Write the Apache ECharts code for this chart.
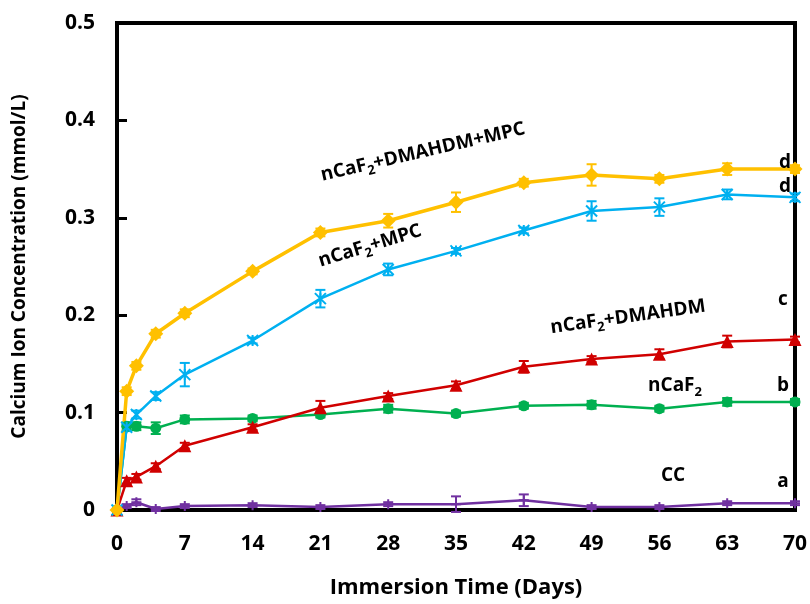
<!DOCTYPE html>
<html>
<head>
<meta charset="utf-8">
<script src="https://cdn.jsdelivr.net/npm/echarts@6/dist/echarts.min.js"></script>
<style>html,body{margin:0;padding:0;background:#fff}#c{width:810px;height:604px}</style>
</head>
<body>
<div id="c"></div>
<script>
const days = [0, 1, 2, 4, 7, 14, 21, 28, 35, 42, 49, 56, 63, 70];
const xTicks = [0, 7, 14, 21, 28, 35, 42, 49, 56, 63, 70];
const yTicks = [0, 0.1, 0.2, 0.3, 0.4, 0.5];

const dmahdmMpc    = [0, 0.122, 0.148, 0.181, 0.202, 0.245, 0.285, 0.297, 0.316, 0.336, 0.344, 0.340, 0.350, 0.350];
const dmahdmMpcErr = [0, 0.004, 0.004, 0.004, 0.004, 0.003, 0.004, 0.007, 0.010, 0.004, 0.011, 0.004, 0.006, 0.004];
const mpc          = [0, 0.085, 0.098, 0.117, 0.139, 0.174, 0.217, 0.247, 0.266, 0.287, 0.307, 0.311, 0.324, 0.321];
const mpcErr       = [0, 0.004, 0.004, 0.004, 0.012, 0.003, 0.009, 0.006, 0.003, 0.003, 0.010, 0.009, 0.005, 0.004];
const dmahdm       = [0, 0.030, 0.034, 0.045, 0.066, 0.085, 0.105, 0.117, 0.128, 0.147, 0.155, 0.160, 0.173, 0.175];
const dmahdmErr    = [0, 0.003, 0.003, 0.003, 0.003, 0.003, 0.007, 0.003, 0.004, 0.006, 0.003, 0.005, 0.006, 0.003];
const ncaf2        = [0, 0.086, 0.086, 0.084, 0.093, 0.094, 0.098, 0.104, 0.099, 0.107, 0.108, 0.104, 0.111, 0.111];
const ncaf2Err     = [0, 0.004, 0.004, 0.006, 0.004, 0.003, 0.003, 0.004, 0.003, 0.003, 0.004, 0.003, 0.004, 0.003];
const cc           = [0, 0.004, 0.008, 0.001, 0.004, 0.005, 0.003, 0.006, 0.006, 0.010, 0.003, 0.003, 0.007, 0.007];
const ccErr        = [0, 0.002, 0.003, 0.002, 0.002, 0.002, 0.002, 0.002, 0.008, 0.006, 0.002, 0.002, 0.002, 0.002];

const FONT = '"Open Sans", Lato, sans-serif';
const C_Y = '#FFC000', C_B = '#00B0F0', C_R = '#D00000', C_G = '#00B050', C_P = '#7030A0';

function pts(vals) { return days.map((d, i) => [d, vals[i]]); }
function errData(vals, errs) { return days.map((d, i) => [d, vals[i] - errs[i], vals[i] + errs[i]]); }

function errSeries(vals, errs, color) {
  return {
    type: 'custom', silent: true, z: 1,
    data: errData(vals, errs),
    renderItem: function (params, api) {
      const x = api.value(0);
      const lo = api.coord([x, api.value(1)]);
      const hi = api.coord([x, api.value(2)]);
      const w = 5;
      const st = { stroke: color, lineWidth: 2 };
      return { type: 'group', children: [
        { type: 'line', shape: { x1: lo[0], y1: lo[1], x2: hi[0], y2: hi[1] }, style: st },
        { type: 'line', shape: { x1: lo[0] - w, y1: lo[1], x2: lo[0] + w, y2: lo[1] }, style: st },
        { type: 'line', shape: { x1: hi[0] - w, y1: hi[1], x2: hi[0] + w, y2: hi[1] }, style: st }
      ]};
    }
  };
}

function lineSeries(name, vals, color, symbol, size, width, border) {
  return {
    name: name, type: 'line', data: pts(vals), z: 3,
    symbol: symbol, symbolSize: size, showSymbol: true,
    lineStyle: { color: color, width: width },
    itemStyle: { color: color, borderColor: color, borderWidth: border || 0 }
  };
}

function label(txt, x, y, rotDeg) {
  return {
    type: 'text', x: x, y: y, rotation: (rotDeg || 0) * Math.PI / 180, z: 10,
    style: {
      text: txt, align: 'center', verticalAlign: 'middle',
      rich: {
        n: { fontFamily: FONT, fontWeight: 'bold', fontSize: 19, lineHeight: 26, fill: '#000', color: '#000' },
        s: { fontFamily: FONT, fontWeight: 'bold', fontSize: 13, lineHeight: 16, verticalAlign: 'bottom', fill: '#000', color: '#000' }
      }
    }
  };
}

const chart = echarts.init(document.getElementById('c'), null, { renderer: 'canvas' });
chart.setOption({
  animation: false,
  backgroundColor: '#fff',
  grid: { left: 117, right: 13, top: 23, bottom: 92, show: true, borderColor: '#000', borderWidth: 4, backgroundColor: 'transparent' },
  xAxis: {
    type: 'value', min: xTicks[0], max: xTicks[xTicks.length - 1], interval: 7,
    name: 'Immersion Time (Days)', nameLocation: 'middle', nameGap: 67,
    nameTextStyle: { fontFamily: FONT, fontWeight: 'bold', fontSize: 22, color: '#000' },
    axisLine: { show: true, lineStyle: { color: '#000', width: 4 } },
    axisTick: { show: false },
    splitLine: { show: false },
    axisLabel: { fontFamily: FONT, fontWeight: 'bold', fontSize: 21, color: '#000', margin: 24 }
  },
  yAxis: {
    type: 'value', min: yTicks[0], max: yTicks[yTicks.length - 1], interval: 0.1,
    name: 'Calcium Ion Concentration (mmol/L)', nameLocation: 'middle', nameGap: 88,
    nameTextStyle: { fontFamily: FONT, fontWeight: 'bold', fontSize: 19, color: '#000' },
    axisLine: { show: true, lineStyle: { color: '#000', width: 4 } },
    axisTick: { show: true, inside: true, length: 10, lineStyle: { color: '#000', width: 3 } },
    splitLine: { show: false },
    axisLabel: { fontFamily: FONT, fontWeight: 'bold', fontSize: 21, color: '#000', margin: 22,
      formatter: v => (v === 0 ? '0' : v.toFixed(1)) }
  },
  series: [
    errSeries(cc, ccErr, C_P),
    errSeries(ncaf2, ncaf2Err, C_G),
    errSeries(dmahdm, dmahdmErr, C_R),
    errSeries(mpc, mpcErr, C_B),
    errSeries(dmahdmMpc, dmahdmMpcErr, C_Y),
    lineSeries('CC', cc, C_P, 'path://M5,0 L5,10 M0,5 L10,5', 10, 2.5, 2),
    lineSeries('nCaF2', ncaf2, C_G, 'circle', 11, 2.5),
    lineSeries('nCaF2+DMAHDM', dmahdm, C_R, 'triangle', 13, 2.5),
    lineSeries('nCaF2+MPC', mpc, C_B, 'path://M0,0 L10,10 M10,0 L0,10 M5,0 L5,10', 11, 2.5, 2),
    lineSeries('nCaF2+DMAHDM+MPC', dmahdmMpc, C_Y, 'diamond', 15, 3.5)
  ],
  graphic: [
    label('{n|nCaF}{s|2}{n|+DMAHDM+MPC}', 423, 152, 13),
    label('{n|nCaF}{s|2}{n|+MPC}', 370, 246, 17),
    label('{n|nCaF}{s|2}{n|+DMAHDM}', 628, 317, 8),
    label('{n|nCaF}{s|2}', 675, 386, 0),
    label('{n|CC}', 673, 476, 0),
    label('{n|d}', 785, 163, 0),
    label('{n|d}', 785, 187, 0),
    label('{n|c}', 783, 300, 0),
    label('{n|b}', 783, 386, 0),
    label('{n|a}', 783, 482, 0)
  ]
});
</script>
</body>
</html>
